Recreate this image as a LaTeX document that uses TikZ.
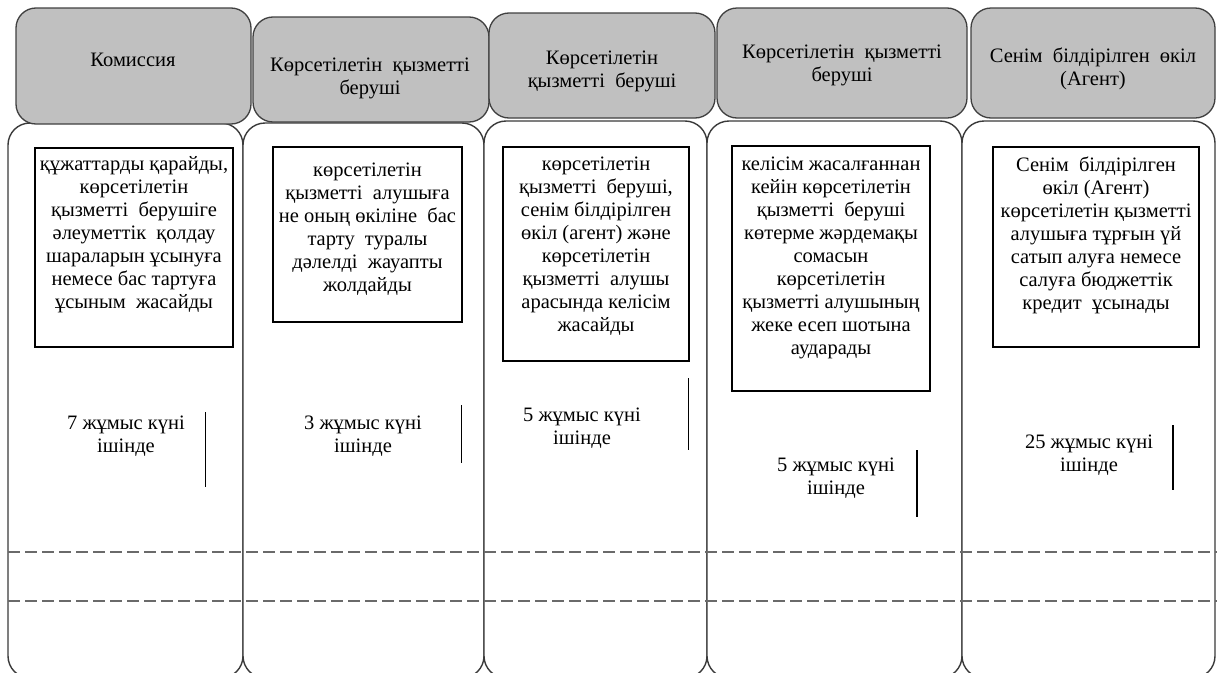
\documentclass[tikz,border=0pt]{standalone}
\usepackage{fontspec}
\setmainfont{Liberation Serif}
\definecolor{hdr}{HTML}{404040}
\definecolor{hfill}{HTML}{C0C0C0}
\definecolor{lanec}{HTML}{3A3A3A}
\definecolor{sepc}{HTML}{6A6A6A}
\begin{document}
\begin{tikzpicture}[x=1pt,y=-1pt,
  head/.style={draw=hdr, fill=hfill, line width=1.3pt, rounded corners=20pt, inner sep=0pt},
  lane/.style={draw=lanec, fill=white, line width=1.4pt, rounded corners=22pt, inner sep=0pt},
  task/.style={draw=black, line width=1.1pt, inner sep=0pt},
  txt/.style={align=center, inner sep=0pt, anchor=north, font=\fontsize{20.5}{23}\selectfont},
  durline/.style={draw=black, line width=1.4pt},
  sepline/.style={draw=sepc, line width=2.6pt, dash pattern=on 12pt off 5pt}]
\useasboundingbox (0,0) rectangle (1217,672);
\clip (0,0) rectangle (1217,672);
% lanes (bodies)
\node[lane, minimum width=235pt, minimum height=555pt] (b1) at (125.5,400.5) {};
\node[lane, minimum width=241pt, minimum height=555pt] (b2) at (363.5,400.5) {};
\node[lane, minimum width=223pt, minimum height=557pt] (b3) at (595.5,399.5) {};
\node[lane, minimum width=255pt, minimum height=557pt] (b4) at (834.5,399.5) {};
\node[lane, minimum width=253pt, minimum height=557pt] (b5) at (1088.5,399.5) {};
% headers
\node[head, minimum width=235pt, minimum height=116pt] (h1) at (133.5,66) {};
\node[head, minimum width=236pt, minimum height=105pt] (h2) at (371,69.5) {};
\node[head, minimum width=226pt, minimum height=105pt] (h3) at (602,65.5) {};
\node[head, minimum width=250pt, minimum height=110pt] (h4) at (842,63) {};
\node[head, minimum width=244pt, minimum height=110pt] (h5) at (1093,63) {};
\node[txt] (h1t) at (133,53) {Комиссия};
\node[txt] (h2t) at (370,58) {Көрсетілетін\ \ қызметті\\беруші};
\node[txt] (h3t) at (602,51) {Көрсетілетін\\қызметті\ \ беруші};
\node[txt] (h4t) at (842,45) {Көрсетілетін\ \ қызметті\\беруші};
\node[txt] (h5t) at (1093,48) {Сенім\ \ білдірілген\ \ өкіл\\(Агент)};
% task boxes
\node[task, minimum width=198pt, minimum height=199pt] (i1) at (134,247.5) {};
\node[task, minimum width=189pt, minimum height=175pt] (i2) at (367.5,234.5) {};
\node[task, minimum width=186pt, minimum height=214pt] (i3) at (596,254) {};
\node[task, minimum width=198pt, minimum height=245pt] (i4) at (831,268.5) {};
\node[task, minimum width=206pt, minimum height=200pt] (i5) at (1096,247) {};
\node[txt] (i1t) at (134,156) {құжаттарды қарайды,\\көрсетілетін\\қызметті\ \ берушіге\\әлеуметтік\ \ қолдау\\шараларын ұсынуға\\немесе бас тартуға\\ұсыным\ \ жасайды};
\node[txt] (i2t) at (367.5,163) {көрсетілетін\\қызметті\ \ алушыға\\не оның өкіліне\ \ бас\\тарту\ \ туралы\\дәлелді\ \ жауапты\\жолдайды};
\node[txt] (i3t) at (596,157) {көрсетілетін\\қызметті\ \ беруші,\\сенім білдірілген\\өкіл (агент) және\\көрсетілетін\\қызметті\ \ алушы\\арасында келісім\\жасайды};
\node[txt] (i4t) at (831,157) {келісім жасалғаннан\\кейін көрсетілетін\\қызметті\ \ беруші\\көтерме жәрдемақы\\сомасын\\көрсетілетін\\қызметті алушының\\жеке есеп шотына\\аударады};
\node[txt] (i5t) at (1096,157) {Сенім\ \ білдірілген\\өкіл (Агент)\\көрсетілетін қызметті\\алушыға тұрғын үй\\сатып алуға немесе\\салуға бюджеттік\\кредит\ \ ұсынады};
% durations
\node[txt] (d1) at (126,416) {7 жұмыс күні\\ішінде};
\node[txt] (d2) at (363,416) {3 жұмыс күні\\ішінде};
\node[txt] (d3) at (582,408) {5 жұмыс күні\\ішінде};
\node[txt] (d4) at (836,458) {5 жұмыс күні\\ішінде};
\node[txt] (d5) at (1089,435) {25 жұмыс күні\\ішінде};
\coordinate (l1a) at (205.5,412); \coordinate (l1b) at (205.5,487);
\coordinate (l2a) at (461.5,405); \coordinate (l2b) at (461.5,463);
\coordinate (l3a) at (688.5,378); \coordinate (l3b) at (688.5,450);
\coordinate (l4a) at (917,450);   \coordinate (l4b) at (917,517);
\coordinate (l5a) at (1173,425);  \coordinate (l5b) at (1173,490);
\draw[durline] (l1a) -- (l1b);
\draw[durline] (l2a) -- (l2b);
\draw[durline] (l3a) -- (l3b);
\draw[durline] (l4a) -- (l4b);
\draw[durline] (l5a) -- (l5b);
% separators
\coordinate (s1a) at (8,552); \coordinate (s1b) at (1217,552);
\coordinate (s2a) at (8,601); \coordinate (s2b) at (1217,601);
\draw[sepline] (s1a) -- (s1b);
\draw[sepline] (s2a) -- (s2b);
\end{tikzpicture}
\end{document}
